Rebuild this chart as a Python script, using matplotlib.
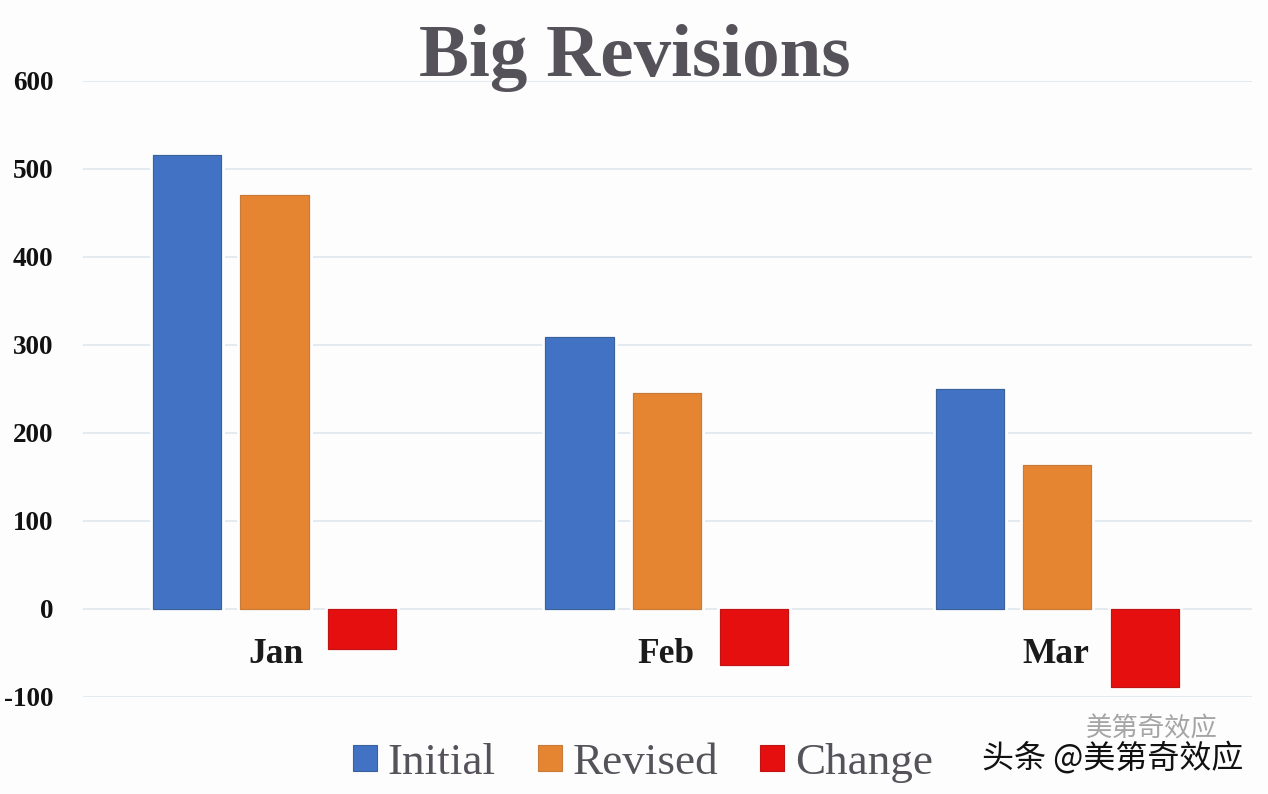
import matplotlib
matplotlib.use("Agg")
import matplotlib.pyplot as plt
import matplotlib.patheffects as pe
import numpy as np
from matplotlib.patches import Rectangle

months = ["Jan", "Feb", "Mar"]
initial = [516, 309, 250]
revised = [471, 245, 164]
change = [-46, -64, -89]
yticks = [-100, 0, 100, 200, 300, 400, 500, 600]
series_names = ["Initial", "Revised", "Change"]
series_colors = ["#4272c4", "#e58532", "#e60f0f"]
edge_colors = ["#3a6199", "#c87a38", "#c01414"]

W, H = 1268, 794
serif = "Liberation Serif"

fig = plt.figure(figsize=(W / 100, H / 100), dpi=100, facecolor="#fdfdfe")
# axes box taken from gridline ends and the 600 / -100 lines
ax = fig.add_axes([83 / W, 1 - 697 / H, (1252 - 83) / W, (697 - 81) / H])
ax.set_facecolor("none")

x = np.arange(len(months))
width = 0.175
step = 0.2245
halo = [pe.withStroke(linewidth=5, foreground="#fdfdfe"), pe.Normal()]

# Jan group sits a touch left in the original
nudge = np.array([-0.007, 0, 0.002])
for i, vals in enumerate([initial, revised, change]):
    ax.bar(x + nudge - 0.226 + i * step, vals, width, color=series_colors[i],
           edgecolor=edge_colors[i], linewidth=0.8, zorder=3, path_effects=halo)

ax.set_xlim(-0.5, 2.5)
ax.set_ylim(-100, 600)
ax.set_yticks(yticks)
ax.set_yticklabels([str(t) for t in yticks], family=serif, fontweight="bold",
                   fontsize=19.5, color="#111111")
ax.tick_params(axis="y", length=0, pad=21.5)
ax.tick_params(axis="x", length=0, labelbottom=False)
ax.grid(axis="y", color="#dce5ec", linewidth=1.1)
ax.set_axisbelow(True)
for s in ax.spines.values():
    s.set_visible(False)

# month labels sit just under the zero line, left of the red bars
for xi, m in zip(x, months):
    ax.annotate(m, (xi, 0), xytext=(-1, -32.5), textcoords="offset points",
                ha="center", va="center", family=serif, fontweight="bold",
                fontsize=25.5, color="#1a1a1a")

fig.text(635 / W, 1 - 58 / H, "Big Revisions", ha="center", va="center",
         family=serif, fontweight="bold", fontsize=54, color="#55525a")

handles = [Rectangle((0, 0), 1, 1, facecolor=c, edgecolor=e, linewidth=0.8)
           for c, e in zip(series_colors, edge_colors)]
fig.legend(handles, series_names, loc="center", bbox_to_anchor=(643 / W, 1 - 763 / H),
           ncol=3, frameon=False, prop={"family": serif, "size": 32.5},
           labelcolor="#55525a", handlelength=0.53, handleheight=0.53,
           handletextpad=0.24, columnspacing=0.93, borderpad=0)

cjk = ["Noto Sans CJK SC", "DejaVu Sans"]
fig.text(1152 / W, 1 - 729 / H, "美第奇效应", ha="center", va="center",
         family=cjk, fontsize=19, color="#a5a5a5")
fig.text(1113 / W, 1 - 758 / H, "头条 @美第奇效应", ha="center", va="center",
         family=cjk, fontsize=23, color="#111111")

fig.savefig("out.png", dpi=100, facecolor=fig.get_facecolor())
